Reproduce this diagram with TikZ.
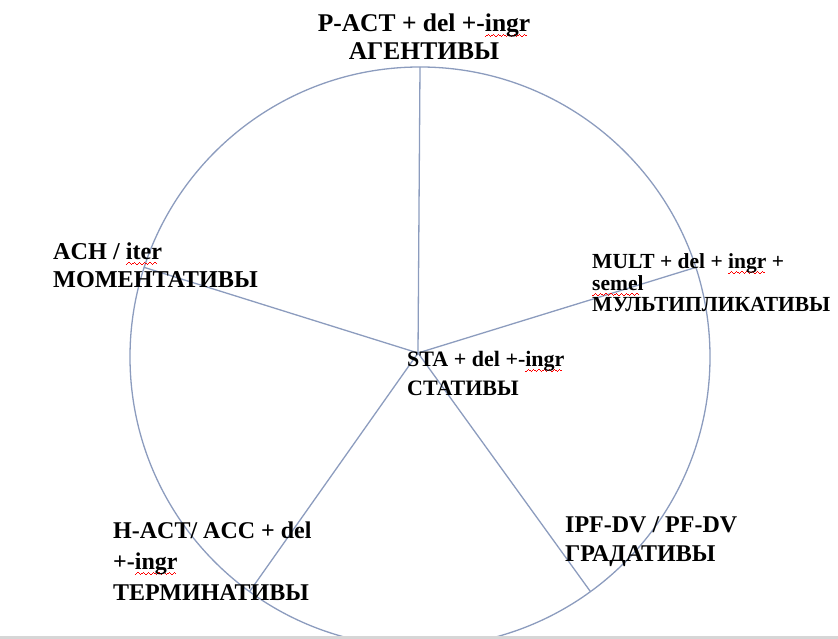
\documentclass[tikz,border=0pt]{standalone}
\usepackage{fontspec}
\setmainfont{Liberation Serif}
\usetikzlibrary{calc}
\definecolor{spoke}{RGB}{140,156,190}
\definecolor{band}{RGB}{214,214,214}
\newsavebox\sqbox
\newcommand\sq[1]{\leavevmode\sbox\sqbox{#1}\rlap{\color{red}\leaders\hbox{\rule[-5.6pt]{1.3pt}{0.9pt}\rule[-4.7pt]{1.3pt}{0.9pt}\rule[-3.8pt]{1.3pt}{0.9pt}\rule[-4.7pt]{1.3pt}{0.9pt}}\hskip\wd\sqbox}\usebox\sqbox}
\begin{document}
\begin{tikzpicture}[x=1pt,y=1pt,
  lbl/.style={inner sep=0pt, anchor=north west, align=left},
  ring/.style={draw=spoke, line width=1.3pt}]
\useasboundingbox (0,0) rectangle (838,639);
\coordinate (c) at (420,282);
\coordinate (hub) at (418,286);
\draw[ring] (c) circle[radius=290];
\foreach \a [count=\i] in {90,162,234,306,18}
  \coordinate (e\i) at ($(c)+(\a:290)$);
\foreach \i in {1,...,5}
  \draw[ring] (hub) -- (e\i);
\node[lbl, anchor=north, align=center, font=\bfseries\fontsize{25.5}{28}\selectfont] (agt) at (424,625.6)
  {P-ACT + del +-\sq{ingr}\\АГЕНТИВЫ};
\node[lbl, font=\bfseries\fontsize{24.2}{28}\selectfont] (mom) at (53,396.7)
  {ACH / \sq{iter}\\МОМЕНТАТИВЫ};
\node[lbl, font=\bfseries\fontsize{21.5}{21.5}\selectfont] (mult) at (592,385.6)
  {MULT + del + \sq{ingr} +\\\sq{semel}\\МУЛЬТИПЛИКАТИВЫ};
\node[lbl, font=\bfseries\fontsize{22}{29}\selectfont] (sta) at (407,288.2)
  {STA + del +-\sq{ingr}\\СТАТИВЫ};
\node[lbl, font=\bfseries\fontsize{24}{31}\selectfont] (term) at (113,117.6)
  {H-ACT/ ACC + del\\+-\sq{ingr}\\ТЕРМИНАТИВЫ};
\node[lbl, font=\bfseries\fontsize{24}{29}\selectfont] (grad) at (565,122.6)
  {IPF-DV / PF-DV\\ГРАДАТИВЫ};
\fill[band] (0,0) rectangle (838,2.5);
\end{tikzpicture}
\end{document}
